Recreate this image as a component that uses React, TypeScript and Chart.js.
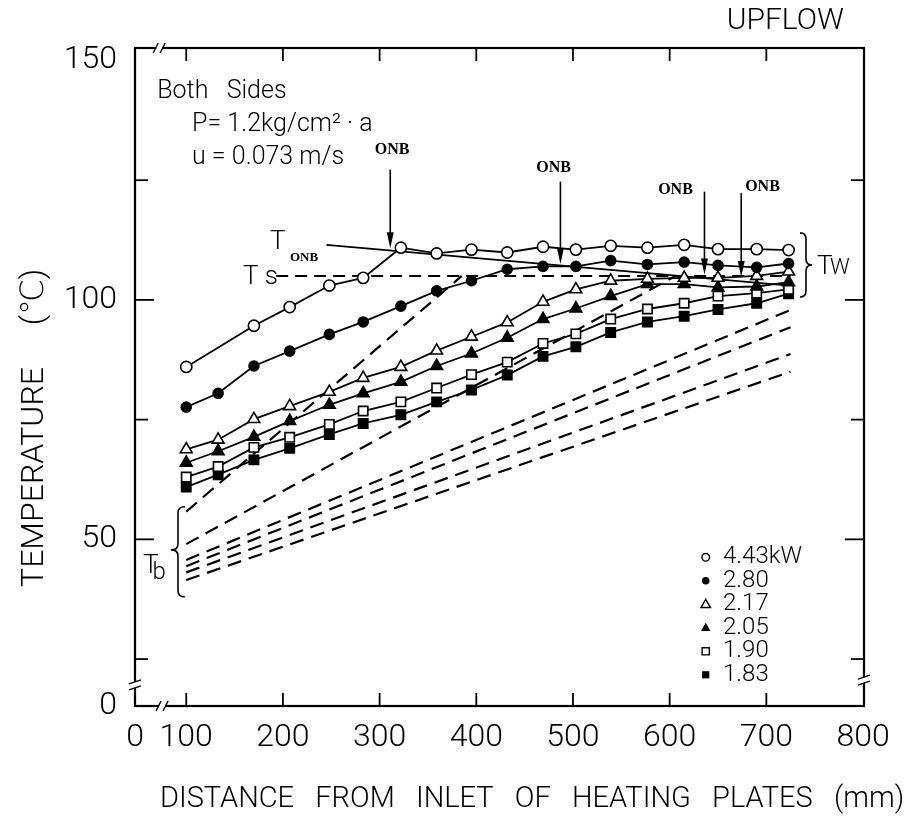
import React, { useEffect, useRef } from 'react';
import { Chart, registerables } from 'chart.js';

Chart.register(...registerables);

// ---------- data ----------
const positions = [100, 133, 170, 207, 248, 283, 322, 359, 395, 432, 469, 503, 539, 577, 615, 650, 690, 723];
const seriesLabels = ['4.43kW', '2.80', '2.17', '2.05', '1.90', '1.83'];
const tw443 = [86.0, null, 94.6, 98.5, 103.0, 104.6, 110.9, 109.7, 110.5, 109.9, 111.1, 110.5, 111.3, 110.9, 111.5, 110.6, 110.6, 110.4];
const tw280 = [77.6, 80.5, 86.2, 89.3, 92.8, 95.4, 98.7, 101.9, 104.0, 106.4, 107.0, 107.0, 108.2, 107.4, 107.9, 107.2, 106.8, 107.6];
const tw217 = [68.8, 70.8, 75.1, 77.8, 80.8, 83.7, 86.0, 89.4, 92.3, 95.3, 99.6, 102.2, 104.0, 104.4, 104.6, 104.6, 105.0, 105.9];
const tw205 = [66.0, 68.4, 71.4, 74.7, 78.1, 80.5, 82.9, 86.2, 88.8, 92.1, 96.0, 98.2, 100.8, 103.3, 103.3, 102.6, 102.8, 103.7];
const tw190 = [63.0, 65.2, 69.2, 71.3, 74.0, 76.8, 78.7, 81.6, 84.4, 87.0, 90.9, 92.9, 96.0, 98.1, 99.3, 100.8, 101.4, 102.2];
const tw183 = [60.9, 63.5, 66.6, 69.0, 71.9, 74.2, 76.0, 78.7, 81.2, 84.3, 88.2, 90.2, 93.2, 95.4, 96.6, 98.0, 99.3, 101.3];

// bulk temperature (dashed) lines
const tbStartX = [100, 100, 100, 100, 100, 100];
const tbStartY = [55.8, 49.0, 45.7, 44.4, 43.1, 41.5];
const tbEndX = [385, 606, 725, 725, 725, 725];
const tbEndY = [105, 105, 97.9, 94.3, 88.7, 85.0];

// saturation temperature line
const tsX = [193, 725];
const tsY = [105, 105];

// predicted onset-of-nucleate-boiling wall temperature line
const tonbX = [245, 724];
const tonbY = [111.5, 103.0];

// ONB arrows
const onbX = [311, 487, 636, 674];
const onbTopY = [127.2, 124.7, 122.6, 122.3];
const onbTipY = [110.8, 107.5, 105.3, 104.8];
const onbLabelX = [313, 480, 606, 696];
const onbLabelY = [131.3, 127.6, 123.0, 123.5];

// axis ticks
const X_MIN = 47;
const X_MAX = 801;
const Y_MIN = 15.2;
const Y_MAX = 152.6;
const xTickValues = [X_MIN, 100, 200, 300, 400, 500, 600, 700, 800];
const yTickValues = [Y_MIN, 25, 50, 75, 100, 125, 150];
const yTickLabels = ['0', '', '50', '', '100', '', '150'];
const xInnerTicks = [100, 200, 300, 400, 500, 600, 700];
const yInnerTicks = [25, 50, 75, 100, 125];

// text notes
const noteText = ['Both   Sides', 'P= 1.2kg/cm² · a', 'u = 0.073 m/s'];
const noteX = [70, 106, 106];
const noteY = [143.5, 136.6, 129.7];

const SANS = "Roboto, 'DejaVu Sans', sans-serif";
const SERIF = "'Liberation Serif', 'DejaVu Serif', serif";

const markerStyles = [
  { style: 'circle', fill: false, r: 5.6 },
  { style: 'circle', fill: true, r: 5 },
  { style: 'triangle', fill: false, r: 6.8 },
  { style: 'triangle', fill: true, r: 6.8 },
  { style: 'rect', fill: false, r: 6.6 },
  { style: 'rect', fill: true, r: 6.6 },
];

function drawMarker(ctx: CanvasRenderingContext2D, style: string, fill: boolean, x: number, y: number, s: number) {
  ctx.beginPath();
  if (style === 'circle') {
    ctx.arc(x, y, s, 0, Math.PI * 2);
  } else if (style === 'triangle') {
    ctx.moveTo(x, y - s);
    ctx.lineTo(x + s * 0.95, y + s * 0.65);
    ctx.lineTo(x - s * 0.95, y + s * 0.65);
    ctx.closePath();
  } else {
    ctx.rect(x - s, y - s, s * 2, s * 2);
  }
  if (fill) {
    ctx.fillStyle = '#000';
    ctx.fill();
  } else {
    ctx.fillStyle = '#fff';
    ctx.fill();
    ctx.stroke();
  }
}

const paperPlugin = {
  id: 'paperPlugin',
  afterDatasetsDraw(chart: any) {
    const { ctx, chartArea: a, scales } = chart;
    const X = (v: number) => scales.x.getPixelForValue(v);
    const Y = (v: number) => scales.y.getPixelForValue(v);
    const line = (x1: number, y1: number, x2: number, y2: number) => {
      ctx.beginPath();
      ctx.moveTo(x1, y1);
      ctx.lineTo(x2, y2);
      ctx.stroke();
    };
    const text = (s: string, x: number, y: number, font: string, align: CanvasTextAlign = 'left') => {
      ctx.font = font;
      ctx.textAlign = align;
      ctx.textBaseline = 'middle';
      ctx.fillStyle = '#000';
      ctx.fillText(s, x, y);
    };
    ctx.save();
    ctx.strokeStyle = '#000';
    ctx.fillStyle = '#000';
    ctx.lineCap = 'butt';

    // frame
    ctx.lineWidth = 2.2;
    ctx.strokeRect(a.left, a.top, a.right - a.left, a.bottom - a.top);

    // inward tick marks
    ctx.lineWidth = 1.8;
    xInnerTicks.forEach((v) => {
      const px = X(v);
      line(px, a.bottom, px, a.bottom - 13);
      line(px, a.top, px, a.top + 13);
    });
    yInnerTicks.forEach((v) => {
      const py = Y(v);
      const len = v % 50 === 0 ? 19 : 13;
      line(a.left, py, a.left + len, py);
      line(a.right, py, a.right - len, py);
    });

    // axis breaks
    const hBreak = (bx: number, by: number) => {
      ctx.fillStyle = '#fff';
      ctx.fillRect(bx - 3, by - 3, 6, 6);
      ctx.lineWidth = 1.4;
      line(bx - 6, by + 5, bx - 1, by - 5);
      line(bx + 1, by + 5, bx + 6, by - 5);
    };
    const vBreak = (bx: number, by: number) => {
      ctx.fillStyle = '#fff';
      ctx.fillRect(bx - 3, by - 3, 6, 6);
      ctx.lineWidth = 1.4;
      line(bx - 6, by - 1, bx + 6, by - 5);
      line(bx - 6, by + 5, bx + 6, by + 1);
    };
    hBreak(X(72), a.top);
    hBreak(X(75), a.bottom);
    vBreak(a.left, Y(19.6));
    vBreak(a.right, Y(20.6));

    // ONB arrows and labels
    ctx.lineWidth = 1.6;
    onbX.forEach((v, i) => {
      const px = X(v);
      const top = Y(onbTopY[i]);
      const tip = Y(onbTipY[i]);
      line(px, top, px, tip - 8);
      ctx.beginPath();
      ctx.moveTo(px, tip);
      ctx.lineTo(px - 3.5, tip - 16);
      ctx.lineTo(px + 3.5, tip - 16);
      ctx.closePath();
      ctx.fillStyle = '#000';
      ctx.fill();
      text('ONB', X(onbLabelX[i]), Y(onbLabelY[i]), `bold 16px ${SERIF}`, 'center');
    });

    // notes
    noteText.forEach((s, i) => text(s, X(noteX[i]), Y(noteY[i]), `300 25px ${SANS}`));

    // T_ONB, Ts, Tw, Tb labels
    text('T', X(186.6), Y(111.9), `300 26px ${SANS}`);
    text('ONB', X(207.3), Y(108.9), `bold 13px ${SERIF}`);
    text('T s', X(158.7), Y(104.7), `300 26px ${SANS}`);
    text('T', X(752.4), Y(106.7), `300 26px ${SANS}`);
    text('W', X(752.4) + 13, Y(106.7) + 1, `300 22px ${SANS}`);
    text('T', X(55.3), Y(44.4), `300 26px ${SANS}`);
    text('b', X(65.1), Y(43.0), `300 24px ${SANS}`);

    // braces
    const brace = (x0: number, y1: number, y2: number, ytip: number, dir: number, d: number) => {
      const xm = x0 + (dir * d) / 2;
      const xt = x0 + dir * d;
      const q = 6;
      ctx.beginPath();
      ctx.moveTo(x0, y1);
      ctx.quadraticCurveTo(xm, y1, xm, y1 + q);
      ctx.lineTo(xm, ytip - q);
      ctx.quadraticCurveTo(xm, ytip, xt, ytip);
      ctx.quadraticCurveTo(xm, ytip, xm, ytip + q);
      ctx.lineTo(xm, y2 - q);
      ctx.quadraticCurveTo(xm, y2, x0, y2);
      ctx.stroke();
    };
    ctx.lineWidth = 1.6;
    brace(X(734.8), Y(114.0), Y(100.6), Y(107.3), 1, 12);
    brace(X(98.7), Y(56.8), Y(38.0), Y(47.8), -1, 14);

    // legend
    ctx.lineWidth = 1.4;
    ctx.strokeStyle = '#000';
    seriesLabels.forEach((s, i) => {
      const py = Y(46.25) + i * 23.5;
      const m = markerStyles[i];
      const size = m.style === 'circle' ? 3.8 : m.style === 'triangle' ? 5 : 3.6;
      drawMarker(ctx, m.style, m.fill, X(637.3), py, size);
      text(s, X(655.2), py, `300 24px ${SANS}`);
    });

    // UPFLOW
    text('UPFLOW', X(659), a.top - 27, `300 30px ${SANS}`);

    // axis titles
    text('DISTANCE   FROM   INLET   OF   HEATING   PLATES   (mm)', a.left + 397, a.bottom + 94, `300 29px ${SANS}`, 'center');
    ctx.save();
    ctx.translate(a.left - 100, a.top + 429);
    ctx.rotate(-Math.PI / 2);
    text('TEMPERATURE', 0, 0, `300 32px ${SANS}`, 'center');
    ctx.restore();
    ctx.save();
    ctx.translate(a.left - 100, a.top + 249);
    ctx.rotate(-Math.PI / 2);
    text('(℃)', 0, 0, `300 32px ${SANS}`, 'center');
    ctx.restore();

    ctx.restore();
  },
};

const seriesValues = [tw443, tw280, tw217, tw205, tw190, tw183];

function buildDatasets() {
  const ds: any[] = [];
  seriesValues.forEach((vals, i) => {
    const m = markerStyles[i];
    ds.push({
      label: seriesLabels[i],
      data: positions.map((x, j) => ({ x, y: vals[j] })).filter((p) => p.y !== null),
      borderColor: '#000',
      borderWidth: 1.8,
      pointStyle: m.style,
      pointRadius: m.r,
      pointBackgroundColor: m.fill ? '#000' : '#fff',
      pointBorderColor: '#000',
      pointBorderWidth: 1.6,
      tension: 0,
      fill: false,
    });
  });
  ds.push({
    label: 'T_ONB',
    data: tonbX.map((x, j) => ({ x, y: tonbY[j] })),
    borderColor: '#000',
    borderWidth: 1.8,
    pointRadius: 0,
    fill: false,
  });
  ds.push({
    label: 'Ts',
    data: tsX.map((x, j) => ({ x, y: tsY[j] })),
    borderColor: '#000',
    borderWidth: 2,
    borderDash: [12, 7],
    pointRadius: 0,
    fill: false,
  });
  tbStartX.forEach((x0, i) => {
    ds.push({
      label: 'Tb ' + seriesLabels[i],
      data: [
        { x: x0, y: tbStartY[i] },
        { x: tbEndX[i], y: tbEndY[i] },
      ],
      borderColor: '#000',
      borderWidth: 2.2,
      borderDash: [14, 8],
      pointRadius: 0,
      fill: false,
    });
  });
  return ds;
}

export default function App() {
  const ref = useRef<HTMLCanvasElement>(null);
  useEffect(() => {
    if (!ref.current) return;
    Chart.defaults.color = '#000';
    const chart = new Chart(ref.current, {
      type: 'line',
      data: { datasets: buildDatasets() },
      options: {
        animation: false,
        responsive: false,
        devicePixelRatio: 1,
        events: [],
        layout: { padding: { top: 48, right: 54, left: 0, bottom: 0 } },
        plugins: { legend: { display: false }, tooltip: { enabled: false }, title: { display: false } },
        scales: {
          x: {
            type: 'linear',
            min: X_MIN,
            max: X_MAX,
            grid: { display: false, drawTicks: false },
            border: { display: false },
            afterBuildTicks: (s: any) => {
              s.ticks = xTickValues.map((v) => ({ value: v }));
            },
            afterFit: (s: any) => {
              s.height = 115;
            },
            ticks: {
              autoSkip: false,
              maxRotation: 0,
              padding: 13,
              color: '#000',
              font: { family: SANS, size: 32, weight: '300' },
              callback: (v: any) => (v === X_MIN ? '0' : String(v)),
            },
          },
          y: {
            type: 'linear',
            min: Y_MIN,
            max: Y_MAX,
            grid: { display: false, drawTicks: false },
            border: { display: false },
            afterBuildTicks: (s: any) => {
              s.ticks = yTickValues.map((v) => ({ value: v }));
            },
            afterFit: (s: any) => {
              s.width = 135;
            },
            ticks: {
              autoSkip: false,
              padding: 18,
              color: '#000',
              font: { family: SANS, size: 32, weight: '300' },
              callback: (v: any) => {
                const i = yTickValues.indexOf(v);
                return i >= 0 ? yTickLabels[i] : '';
              },
            },
          },
        },
      },
      plugins: [paperPlugin],
    } as any);
    return () => chart.destroy();
  }, []);
  return (
    <div style={{ position: 'absolute', left: 0, top: 0, width: 918, height: 821, background: '#fff' }}>
      <canvas ref={ref} width={918} height={821} style={{ display: 'block' }} />
    </div>
  );
}
